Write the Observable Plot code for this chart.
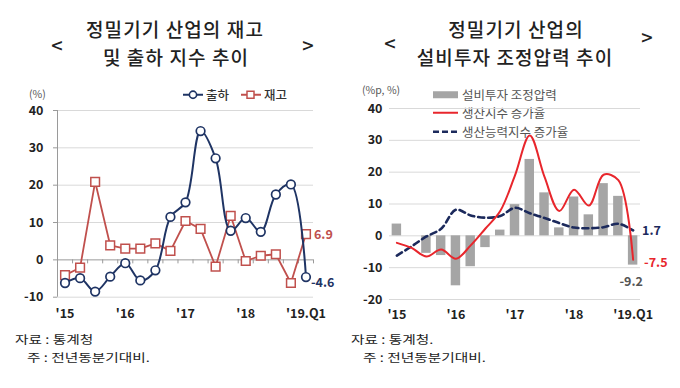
<!DOCTYPE html>
<html><head><meta charset="utf-8">
<script src="https://cdn.jsdelivr.net/npm/d3@7"></script>
<script src="https://cdn.jsdelivr.net/npm/@observablehq/plot@0.6"></script>
<style>
body{margin:0;background:#fff;}
#root{position:relative;width:680px;height:388px;overflow:hidden;background:#fff;font-family:"Noto Sans CJK KR","Noto Sans",sans-serif;color:#222;}
.abs{position:absolute;white-space:nowrap;}
.title{font-size:19px;font-weight:500;letter-spacing:1.1px;line-height:1;transform:translate(-50%,-50%);color:#222;}
.br{font-size:20px;font-weight:500;line-height:1;transform:translate(-50%,-50%);color:#222;}
.unit{font-size:10.5px;color:#555;line-height:1;transform:translateY(-50%);}
.leg{font-size:12.5px;color:#555;line-height:1;transform:translateY(-50%);display:flex;align-items:center;}
.foot{font-size:14px;letter-spacing:0px;line-height:1;color:#222;transform:translateY(-50%) scale(1.05,0.84);transform-origin:left center;white-space:pre;}
</style></head>
<body>
<div id="root">
  <div class="abs title" style="left:175px;top:28px;">정밀기기 산업의 재고</div>
  <div class="abs title" style="left:176px;top:56px;">및 출하 지수 추이</div>
  <div class="abs br" style="left:57px;top:45px;">&lt;</div>
  <div class="abs br" style="left:308px;top:45px;">&gt;</div>
  <div class="abs title" style="left:516px;top:28px;">정밀기기 산업의</div>
  <div class="abs title" style="left:515px;top:56px;">설비투자 조정압력 추이</div>
  <div class="abs br" style="left:390px;top:43px;">&lt;</div>
  <div class="abs br" style="left:647px;top:37px;">&gt;</div>

  <div class="abs unit" style="left:29px;top:94px;">(%)</div>
  <div class="abs leg" style="left:182px;top:95px;color:#333;font-weight:500;">
    <svg width="22" height="10"><line x1="1" y1="5" x2="21" y2="5" stroke="#1f3464" stroke-width="2"/><circle cx="11" cy="5" r="3.6" fill="#fff" stroke="#1f3464" stroke-width="1.6"/></svg><span style="margin-left:2px">출하</span>
  </div>
  <div class="abs leg" style="left:240px;top:95px;color:#333;font-weight:500;">
    <svg width="22" height="10"><line x1="1" y1="5" x2="21" y2="5" stroke="#c0504d" stroke-width="2"/><rect x="7" y="1.5" width="7" height="7" fill="#fff" stroke="#c0504d" stroke-width="1.5"/></svg><span style="margin-left:2px">재고</span>
  </div>

  <div class="abs unit" style="left:362px;top:90px;">(%p, %)</div>
  <div class="abs leg" style="left:433px;top:95px;">
    <svg width="26" height="10"><rect x="0" y="1.5" width="25" height="7" fill="#a5a5a5"/></svg><span style="margin-left:3px">설비투자 조정압력</span>
  </div>
  <div class="abs leg" style="left:433px;top:113px;">
    <svg width="26" height="10"><line x1="0" y1="5" x2="25" y2="5" stroke="#e8262c" stroke-width="2.2"/></svg><span style="margin-left:3px">생산지수 증가율</span>
  </div>
  <div class="abs leg" style="left:433px;top:132px;">
    <svg width="26" height="10"><line x1="0" y1="5" x2="25" y2="5" stroke="#1c2a5c" stroke-width="2.6" stroke-dasharray="6,3"/></svg><span style="margin-left:3px">생산능력지수 증가율</span>
  </div>

  <div id="left" class="abs" style="left:0px;top:80px;"></div>
  <div id="right" class="abs" style="left:340px;top:80px;"></div>

  <div class="abs foot" style="left:15px;top:339px;">자료 : 통계청</div>
  <div class="abs foot" style="left:27px;top:357px;">주 : 전년동분기대비.</div>
  <div class="abs foot" style="left:351px;top:339px;">자료 : 통계청.</div>
  <div class="abs foot" style="left:363px;top:357px;">주 : 전년동분기대비.</div>
</div>
<script>
// ---- data ----
const quarters = ["2015.Q1","2015.Q2","2015.Q3","2015.Q4","2016.Q1","2016.Q2","2016.Q3","2016.Q4",
  "2017.Q1","2017.Q2","2017.Q3","2017.Q4","2018.Q1","2018.Q2","2018.Q3","2018.Q4","2019.Q1"];
const tickQuarters = ["2015.Q1","2016.Q1","2017.Q1","2018.Q1","2019.Q1"];
const tickLabels = ["'15","'16","'17","'18","'19.Q1"];

// left chart: 출하 / 재고 (전년동분기대비, %)
const shipment  = [-6.2,-4.9,-8.5,-4.5,-0.9,-5.5,-2.8,11.5,15.4,34.5,27.2,7.8,11.2,7.5,17.5,20.2,-4.6];
const inventory = [-4.1,-2.1,20.9,3.9,3.0,3.0,4.4,2.4,10.4,8.3,-1.8,11.8,-0.3,1.1,1.5,-6.2,6.9];
const leftYTicks = [-10,0,10,20,30,40];

// right chart
const adjPressure = [3.7,0,-5.5,-6.2,-15.7,-9.7,-3.7,1.8,9.8,24.0,13.5,2.5,12.2,6.6,16.4,12.4,-9.2];
const prodGrowth  = [-2.2,-3.8,-6.5,-4.3,-7.2,-3.0,2.3,7.8,19.0,31.5,18.5,7.8,14.5,9.5,19.2,17.5,-7.5];
const capGrowth   = [-6.2,-3.3,-0.2,2.2,8.2,6.4,5.7,6.2,8.8,7.1,5.6,4.0,2.6,2.4,2.7,3.8,1.7];
const rightYTicks = [-20,-10,0,10,20,30,40];

// ---- helpers ----
const rows = (vals) => vals.map((v, i) => ({i, q: quarters[i], v}));
const tickIdx = tickQuarters.map(q => quarters.indexOf(q));
const fmtTick = (i) => tickLabels[tickIdx.indexOf(i)];
const fmtY = d => String(d);
const last = quarters.length - 1;
const FONT = '"Noto Sans CJK KR","Noto Sans",sans-serif';
const NAVY = "#1f3464", BRICK = "#c0504d", RED = "#e8262c", DNAVY = "#1c2a5c", GRAY = "#a5a5a5";
const fmt1 = d => d3.format(".1f")(d).replace("−","-");

// ---- left chart ----
const shipRows = rows(shipment), invRows = rows(inventory);
const boundaries = d3.range(-0.5, last + 1, 1);
const left = Plot.plot({
  width: 340, height: 245,
  marginTop: 30, marginBottom: 28.3, marginLeft: 57, marginRight: 27,
  style: {fontFamily: FONT, background: "transparent", overflow: "visible"},
  x: {type: "linear", domain: [-0.5, last + 0.5]},
  y: {domain: [-10, 40]},
  marks: [
    Plot.ruleY(leftYTicks.filter(d => d !== 0), {stroke: "#d9d9d9", strokeWidth: 1}),
    Plot.ruleY(leftYTicks, {x1: -0.5, x2: -0.5, insetLeft: -4, stroke: "#9a9a9a"}),
    Plot.ruleX([-0.5], {y1: -10, y2: 40, stroke: "#9a9a9a"}),
    Plot.ruleY([0], {stroke: "#9a9a9a", strokeWidth: 1}),
    Plot.ruleX(boundaries, {y1: 0, y2: 0, insetBottom: -4, stroke: "#9a9a9a"}),
    Plot.axisY({ticks: leftYTicks, tickFormat: fmtY, label: null, tickSize: 0, tickPadding: 14, fontSize: 12.5, fontWeight: "bold", color: "#222"}),
    Plot.axisX({ticks: tickIdx, tickFormat: fmtTick, label: null, tickSize: 0, tickPadding: 12, fontSize: 12.5, fontWeight: "bold", color: "#222"}),
    Plot.line(invRows, {x: "i", y: "v", stroke: BRICK, strokeWidth: 1.8}),
    Plot.dot(invRows, {x: "i", y: "v", symbol: "square", r: 4.9, fill: "#fff", stroke: BRICK, strokeWidth: 1.5}),
    Plot.line(shipRows, {x: "i", y: "v", stroke: NAVY, strokeWidth: 2, curve: "catmull-rom"}),
    Plot.dot(shipRows, {x: "i", y: "v", r: 4.3, fill: "#fff", stroke: NAVY, strokeWidth: 1.7}),
    Plot.text([invRows[last]], {x: "i", y: "v", text: d => fmt1(d.v), dx: 8, dy: 1, textAnchor: "start", fill: BRICK, fontSize: 12.5, fontWeight: "bold"}),
    Plot.text([shipRows[last]], {x: "i", y: "v", text: d => fmt1(d.v), dx: 5, dy: 6, textAnchor: "start", fill: NAVY, fontSize: 12.5, fontWeight: "bold"})
  ]
});
document.getElementById("left").append(left);

// ---- right chart ----
const barRows = rows(adjPressure), prodRows = rows(prodGrowth), capRows = rows(capGrowth);
const hw = 0.32;
const right = Plot.plot({
  width: 340, height: 245,
  marginTop: 28, marginBottom: 26, marginLeft: 49, marginRight: 40,
  style: {fontFamily: FONT, background: "transparent", overflow: "visible"},
  x: {type: "linear", domain: [-0.5, last + 0.5]},
  y: {domain: [-20, 40]},
  marks: [
    Plot.ruleY(rightYTicks, {stroke: "#d9d9d9", strokeWidth: 1}),
    Plot.axisY({ticks: rightYTicks, tickFormat: fmtY, label: null, tickSize: 0, tickPadding: 7, fontSize: 12.5, fontWeight: "bold", color: "#222"}),
    Plot.axisX({ticks: tickIdx, tickFormat: fmtTick, label: null, tickSize: 0, tickPadding: 11, fontSize: 12.5, fontWeight: "bold", color: "#222"}),
    Plot.rectY(barRows, {x1: d => d.i - hw, x2: d => d.i + hw, y1: 0, y2: "v", fill: GRAY}),
    Plot.line(capRows, {x: "i", y: "v", stroke: DNAVY, strokeWidth: 2.6, strokeDasharray: "6,4", curve: "catmull-rom"}),
    Plot.line(prodRows, {x: "i", y: "v", stroke: RED, strokeWidth: 2, curve: "catmull-rom"}),
    Plot.text([capRows[last]], {x: "i", y: "v", text: d => fmt1(d.v), dx: 9, dy: 1, textAnchor: "start", fill: DNAVY, fontSize: 12.5, fontWeight: "bold"}),
    Plot.text([prodRows[last]], {x: "i", y: "v", text: d => fmt1(d.v), dx: 11, dy: 3, textAnchor: "start", fill: RED, fontSize: 12.5, fontWeight: "bold"}),
    Plot.text([barRows[last]], {x: "i", y: "v", text: d => fmt1(d.v), dx: -2, dy: 17, textAnchor: "middle", fill: "#555", fontSize: 12.5, fontWeight: "bold"})
  ]
});
document.getElementById("right").append(right);
</script>
</body></html>
